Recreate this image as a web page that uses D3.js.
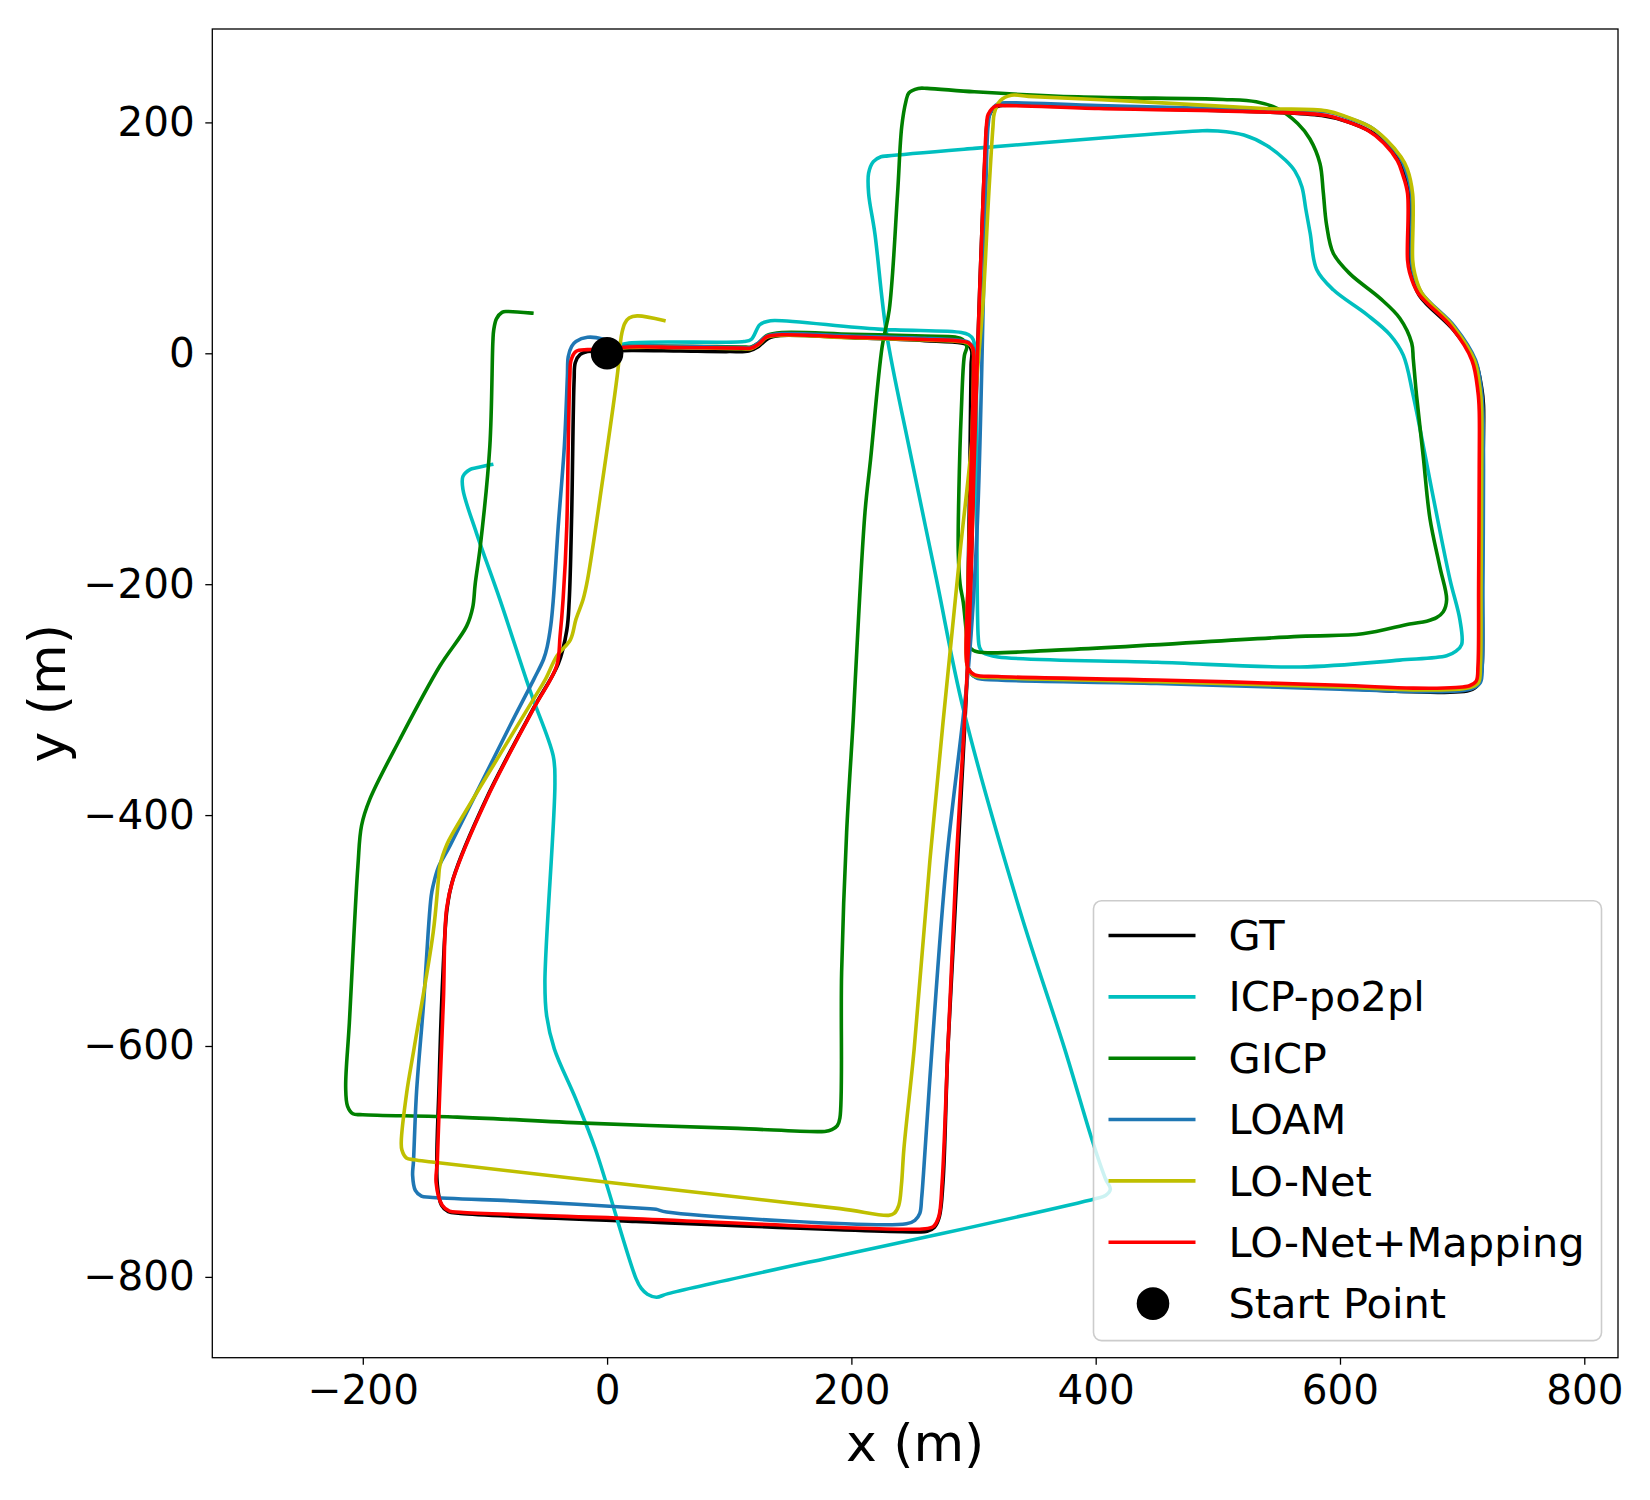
<!DOCTYPE html>
<html lang="en">
<head>
	<meta charset="UTF-8">
	<title>trajectory</title>
	<style>
		* {
			margin: 0;
			padding: 0;
		}
		body {
			background: #fff;
		}
		svg {
			display: block;
			font-family: "DejaVu Sans", sans-serif;
		}
	</style>
</head>
<body>
	<script src="https://cdn.jsdelivr.net/npm/d3@7"></script>
	<script>
		// trajectories, [x, y] in metres
		var gt = [[0,2],[20,2.5],[60,2],[100,1.5],[116,2],[124,6],[132,13],[142,15.5],[200,13.5],[260,11],[290,9],[296,7],[298.5,2],[298,-10],[297,-100],[295.5,-200],[294.5,-262],[296,-274],[302,-280.5],[320,-282],[450,-285],[600,-290],[650,-293],[690,-293.5],[706,-292],[713,-287],[716,-275],[716.5,-200],[717,-100],[717.5,-45],[716,-30],[711,-8],[693,20],[665,50],[658,70],[656.5,90],[657,125],[656.5,140],[652,160],[642,178],[625,192],[605,201],[585,206],[540,209],[400,213],[330,215],[318,213],[312,204],[310,180],[308,138],[304,23],[300.5,-92],[296,-250],[287,-439],[279,-602],[275,-718],[272,-748],[268,-757],[262,-760.5],[253,-761],[23.7,-752],[-120,-745],[-130,-743.5],[-135.5,-738],[-139,-720],[-137.5,-632],[-134.5,-540],[-131,-481],[-126,-455],[-99,-386],[-60,-307],[-40,-269],[-33,-240],[-31,-214],[-29,-140],[-27,-23],[-26,-8],[-22,-1],[-16,1.5],[-5,2],[0,2]];

		var icp = [[0,4.5],[18,8.9],[112,10.2],[118,12],[125,24.7],[131,27.5],[137,28.4],[222,20.9],[290,18],[296,16],[299.7,12],[302,-10],[302.5,-50.8],[303.8,-245],[305,-255],[308,-259.5],[320,-263],[450.6,-267.6],[567,-271.7],[648.8,-265.8],[687.3,-262],[695,-258],[699.6,-252.2],[698.2,-231],[690,-195.8],[676.4,-125],[660,-36.8],[651.8,-1.6],[641,16],[621.8,33.7],[594.5,55],[580.9,72.6],[575.6,104],[572,125],[568.8,144.3],[563,158],[555.2,167.4],[540,180],[521.3,189],[500,192.5],[487.3,192.8],[402.5,186.2],[300.6,177.5],[230,171],[224.2,170.2],[218,166],[214.1,156],[214.1,138.6],[219.2,104],[228.8,17.1],[247.1,-80.6],[269.8,-196.5],[291.6,-308],[338,-482.9],[374.6,-602.5],[397.6,-683.2],[408,-715],[412,-724],[408,-729.5],[399.6,-732.3],[274.3,-762.5],[190.8,-781.4],[50,-814.5],[40.4,-817.6],[33,-815],[28,-810],[23.7,-801.5],[-9.7,-689],[-26,-645],[-43.2,-602.5],[-49.5,-573.7],[-50.9,-544.9],[-42.7,-371.9],[-44.1,-348.8],[-60.5,-299.8],[-66.2,-282.4],[-87.8,-213.2],[-107,-155.5],[-118,-118],[-118,-106.6],[-112,-100.5],[-107,-99.2],[-94.5,-96.4]];

		var gicp = [[0,4],[18,6],[110,5.5],[118,5.5],[124,9],[131,15.5],[143,18],[200,16.5],[260,15],[285,14],[291,12],[294.5,6],[292.5,-2],[290,-50],[288,-120],[287.5,-172],[289,-200],[291.6,-215.8],[295,-248],[297,-255],[303,-258.6],[364,-257.3],[567,-245.2],[618.6,-243],[657,-234.5],[671,-232],[679,-229],[684.5,-224],[687.3,-213.4],[681.8,-185.2],[673.6,-142.8],[668.2,-89.8],[662.7,-36.8],[660,-5],[658.7,9],[649.1,30.2],[632.7,47.8],[608,69],[594.5,86.7],[589,111.4],[586.3,139.7],[583.6,164.4],[575.4,185.6],[565.4,199.1],[548.4,212.1],[531.4,217.8],[504.3,219.9],[385.5,222.1],[300.6,226.5],[262,229.5],[254.8,229.4],[247,225.5],[244.6,218],[241.2,196.1],[237.8,138.6],[231,37.6],[225.2,5.9],[215.7,-92],[211.1,-138.2],[203.2,-282.4],[201.5,-317.8],[196.1,-414.9],[192,-536.3],[190.6,-662.4],[188.5,-669],[184,-672.5],[178.2,-674],[107.2,-671.4],[-18.1,-666.8],[-122.6,-661.6],[-200,-659.5],[-208.1,-658.7],[-212.5,-652],[-214,-636],[-211,-580],[-204,-444],[-201,-409],[-194.2,-386.2],[-169.6,-334.3],[-136.9,-270.9],[-115,-236.3],[-110,-220],[-108,-200],[-103.8,-167.1],[-96,-80.6],[-93.5,10],[-92.8,20.3],[-90.5,30],[-86,35.5],[-81.9,36.2],[-61.6,34.8]];

		var loam = [[0,4],[18,6],[110,5],[118,5],[124,9],[131,15],[143,17],[200,15],[260,13],[290,11],[296,9.5],[300,4],[300.5,-10],[298.5,-100],[296.5,-200],[295,-262],[296.5,-274],[302,-281],[320,-283],[450,-286],[600,-291],[660,-293],[697,-292.5],[709,-290],[715,-285],[716.5,-270],[717,-200],[717.5,-100],[717,-50],[716,-34],[711,-6],[694,23],[667,52],[660,70],[658.5,81],[658.5,138],[654,158],[649,170],[638,184],[625,196],[606,204],[590,209],[538,211],[402,214.5],[330,217],[320,216],[314,209],[312,198],[310,140],[308,46],[303,-150],[296,-270],[278,-439],[266,-602],[259,-711],[257.5,-732],[256,-745],[252,-751],[245,-754],[48.7,-743.8],[40,-741.5],[32,-740.8],[-60,-735],[-145,-731],[-152,-730],[-157,-725],[-159.2,-712],[-158.5,-700],[-156,-640],[-150,-560],[-146.5,-502],[-144,-470],[-142.4,-461],[-138,-445],[-128.7,-426.6],[-79.6,-322.8],[-60,-282.4],[-52,-265],[-49,-254],[-46,-235],[-44,-213],[-40,-150],[-35,-80.6],[-32.5,-20],[-31.8,-3],[-29,6],[-25.5,10.2],[-16.1,13.9],[-3.6,12.3],[5,8]];

		var lonet = [[0,3],[18,5],[110,4],[118,4],[124,7.5],[131,14],[143,15.5],[200,13.5],[260,11.5],[290,10],[296,8.5],[299.5,3.5],[300,-10],[298,-100],[295.5,-200],[294,-262],[295.5,-273],[301,-279.5],[320,-281],[450,-284.5],[600,-289],[660,-291.5],[697,-291],[708,-289],[713.5,-285],[715,-270],[715.5,-200],[716,-100],[716,-50],[715,-34],[710,-6],[693,23],[667,52],[661,70],[659.5,81],[659.5,138],[655,160],[650,170],[638,185],[625,196],[605,205],[589,210],[538,212],[436,218],[345,222.5],[331,223.6],[322,219],[317,208],[315.9,196],[312.5,138.6],[307.9,46.3],[304,-5.6],[297.2,-92],[289,-172],[264.3,-439],[251.4,-602.5],[243,-689],[241,-720],[238.8,-738],[235,-745],[230.5,-746.7],[190.8,-740.9],[23.7,-720.8],[-143.4,-700.5],[-158,-698.5],[-164.3,-697],[-168,-690],[-168.5,-683],[-164,-640],[-158,-602],[-142.4,-502],[-138,-455],[-136.9,-444],[-131,-425],[-126,-415],[-60.5,-300],[-50.5,-282.4],[-41,-262],[-30,-248],[-25.5,-230.5],[-19.6,-213],[-16,-196],[-3.6,-109.4],[8.9,-14.3],[11,10],[12.1,17.5],[14.5,26],[18,30.5],[24.6,32.4],[46.5,28.4]];

		var lonetMap = [[0,3.5],[18,5.5],[60,5],[110,4.5],[118,4.5],[124,8],[131,14.5],[143,16],[200,14],[260,12],[290,10.5],[296,9],[299.5,4],[300,-10],[298,-100],[295.5,-200],[294,-262],[295.5,-273],[301,-278.5],[320,-280],[450,-283],[600,-287.5],[660,-290],[695,-289.5],[706,-288],[711.5,-284],[713,-270],[713.5,-200],[714,-100],[714,-50],[713,-34],[708,-6],[691,23],[664,52],[657,70],[655.3,81],[655.3,138.6],[651,156],[647,167],[636,182],[623,193],[605,201],[589,206],[538,209],[402.5,212],[328,214.5],[318,214],[312,207],[310.8,200],[308,138.6],[304,23],[300.6,-92],[296,-250],[286,-439],[279,-602],[274.3,-718],[271.5,-748],[267,-756.5],[258,-758.5],[23.7,-749.6],[-120,-744],[-129,-743],[-135,-738],[-140,-718],[-139,-700],[-137,-640],[-134,-560],[-131.4,-481.4],[-126,-455.4],[-98.7,-386.2],[-60.5,-308.4],[-41.3,-270.9],[-38.5,-245],[-36,-213],[-33,-150],[-31.8,-80.6],[-30.5,-20],[-29.5,-6],[-25.5,1.6],[-16,3.2],[0,3.5]];

		var startPoint = [0, 0];

		var seriesNames = ['GT', 'ICP-po2pl', 'GICP', 'LOAM', 'LO-Net', 'LO-Net+Mapping'];
		var seriesColors = ['#000000', '#00bfbf', '#008000', '#1f77b4', '#bfbf00', '#ff0000'];
		var seriesData = [gt, icp, gicp, loam, lonet, lonetMap];

		var xTicks = [-200, 0, 200, 400, 600, 800];
		var yTicks = [-800, -600, -400, -200, 0, 200];

		var width = 1650, height = 1500;
		var plot = {left: 212.3, right: 1618, top: 29, bottom: 1357.7};

		var svg = d3.select('body').append('svg').attr('width', width).attr('height', height);

		var xScale = d3.scaleLinear().domain([-323.2, 827.6]).range([plot.left, plot.right]);
		var yScale = d3.scaleLinear().domain([-870, 280.9]).range([plot.bottom, plot.top]);

		svg.append('clipPath').attr('id', 'clip')
			.append('rect')
			.attr('x', plot.left).attr('y', plot.top)
			.attr('width', plot.right - plot.left).attr('height', plot.bottom - plot.top);

		// 轨迹
		var line = d3.line()
			.x(function (d) {return xScale(d[0])})
			.y(function (d) {return yScale(d[1])})
			.curve(d3.curveCatmullRom.alpha(0.5));

		svg.append('g').attr('clip-path', 'url(#clip)')
			.selectAll('path')
			.data(seriesData)
			.enter()
			.append('path')
			.attr('d', line)
			.attr('fill', 'none')
			.attr('stroke', function (d, i) {return seriesColors[i]})
			.attr('stroke-width', 3.6)
			.attr('stroke-linejoin', 'round')
			.attr('stroke-linecap', 'square');

		// 起点
		svg.append('circle')
			.attr('cx', xScale(startPoint[0]))
			.attr('cy', yScale(startPoint[1]))
			.attr('r', 16.3)
			.attr('fill', '#000');

		// x轴
		var xAxis = svg.append('g')
			.attr('transform', 'translate(0,' + plot.bottom + ')')
			.call(d3.axisBottom(xScale).tickValues(xTicks).tickSize(7).tickPadding(11));
		// y轴
		var yAxis = svg.append('g')
			.attr('transform', 'translate(' + plot.left + ',0)')
			.call(d3.axisLeft(yScale).tickValues(yTicks).tickSize(7).tickPadding(10.5));

		[xAxis, yAxis].forEach(function (g) {
			g.select('.domain').remove();
			g.selectAll('line').attr('stroke', '#000').attr('stroke-width', 1.3);
			g.selectAll('text')
				.attr('fill', '#000')
				.style('font-family', '"DejaVu Sans", sans-serif')
				.style('font-size', '40.5px');
		});

		svg.append('rect')
			.attr('x', plot.left).attr('y', plot.top)
			.attr('width', plot.right - plot.left).attr('height', plot.bottom - plot.top)
			.attr('fill', 'none')
			.attr('stroke', '#000')
			.attr('stroke-width', 1.3);

		// 轴标题
		svg.append('text')
			.attr('x', (plot.left + plot.right) / 2)
			.attr('y', 1461)
			.attr('text-anchor', 'middle')
			.style('font-size', '52px')
			.text('x (m)');

		svg.append('text')
			.attr('transform', 'translate(65,' + ((plot.top + plot.bottom) / 2) + ') rotate(-90)')
			.attr('text-anchor', 'middle')
			.style('font-size', '52px')
			.text('y (m)');

		// 图例
		var legend = svg.append('g');
		legend.append('rect')
			.attr('x', 1093.5).attr('y', 900.8)
			.attr('width', 508).attr('height', 439.8)
			.attr('rx', 8).attr('ry', 8)
			.attr('fill', '#fff').attr('fill-opacity', 0.8)
			.attr('stroke', '#cccccc').attr('stroke-width', 1.6);

		var legendRows = seriesNames.concat(['Start Point']);
		var rowY = function (i) {return 935.5 + i * 61.35};

		legend.selectAll('.lg-line')
			.data(seriesNames)
			.enter()
			.append('line')
			.attr('x1', 1108.5).attr('x2', 1195.5)
			.attr('y1', function (d, i) {return rowY(i)})
			.attr('y2', function (d, i) {return rowY(i)})
			.attr('stroke', function (d, i) {return seriesColors[i]})
			.attr('stroke-width', 3.6);

		legend.append('circle')
			.attr('cx', 1153).attr('cy', rowY(6))
			.attr('r', 16.3)
			.attr('fill', '#000');

		legend.selectAll('.lg-text')
			.data(legendRows)
			.enter()
			.append('text')
			.attr('x', 1228.5)
			.attr('y', function (d, i) {return rowY(i) + 14.6})
			.style('font-size', '41.5px')
			.text(function (d) {return d});
	</script>
</body>
</html>
